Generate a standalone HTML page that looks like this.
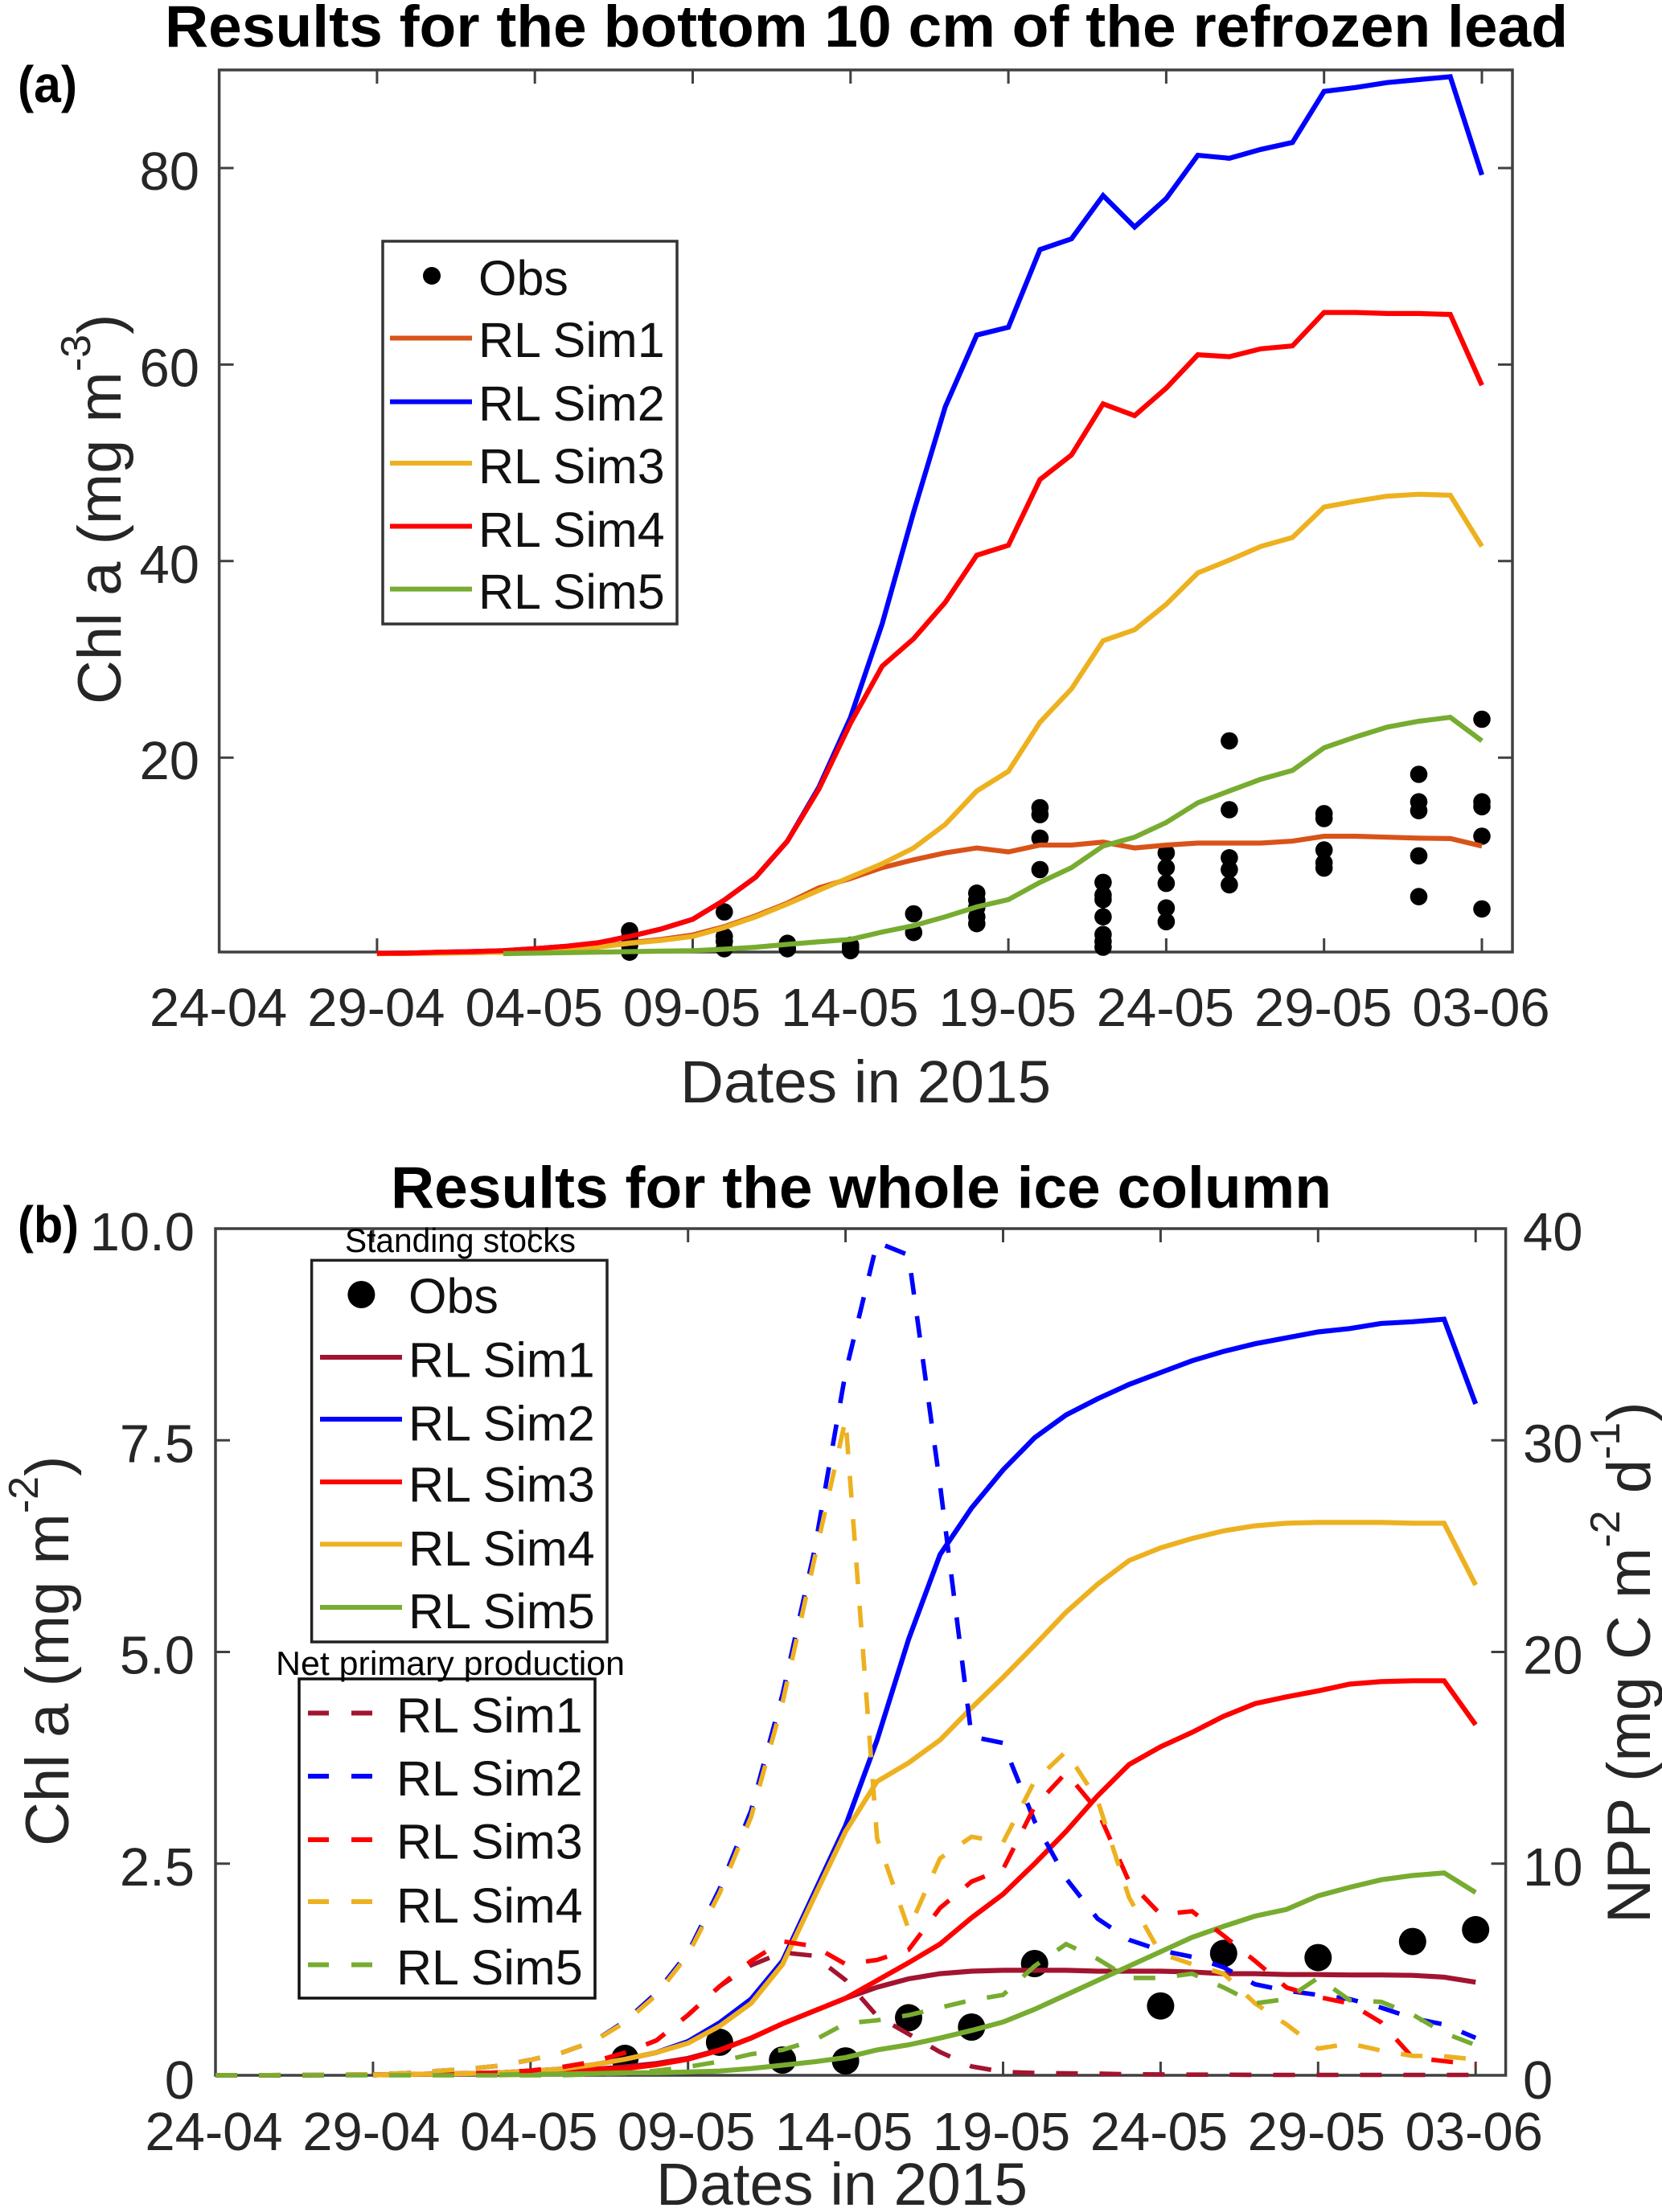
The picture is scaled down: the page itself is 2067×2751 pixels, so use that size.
<!DOCTYPE html>
<html lang="en">
<head>
<meta charset="utf-8">
<title>Chl a results for the refrozen lead</title>
<style>
html,body{margin:0;padding:0;background:#fff;}
svg{display:block;}
text{font-family:"Liberation Sans",Arial,sans-serif;fill:#262626;}
.title{font-weight:bold;font-size:73px;fill:#000;}
.lab{font-size:76px;}
.xlab{font-size:74px;}
.leg{font-size:61px;fill:#111;}
.tick{font-size:67px;}
.note{font-size:42px;fill:#000;}
.panel{font-weight:bold;font-size:64px;fill:#000;}
</style>
</head>
<body>
<svg id="figure" xmlns="http://www.w3.org/2000/svg" width="2067" height="2751" viewBox="0 0 2067 2751">
  <rect x="0" y="0" width="2067" height="2751" fill="#fff"/>
  <text class="title" x="205" y="58" textLength="1745" lengthAdjust="spacingAndGlyphs">Results for the bottom 10 cm of the refrozen lead</text>
  <text class="panel" x="22" y="127" textLength="74" lengthAdjust="spacingAndGlyphs">(a)</text>
  <text class="lab" transform="translate(150,876) rotate(-90)">Chl a (mg m<tspan dy="-38" font-size="52">-3</tspan><tspan dy="38">)</tspan></text>
  <text class="xlab" x="846" y="1371" textLength="461" lengthAdjust="spacingAndGlyphs">Dates in 2015</text>
  <g id="chartA"></g>

  <text class="title" x="486" y="1502" textLength="1170" lengthAdjust="spacingAndGlyphs">Results for the whole ice column</text>
  <text class="panel" x="22" y="1545" textLength="76" lengthAdjust="spacingAndGlyphs">(b)</text>
  <text class="lab" transform="translate(85,2296) rotate(-90)">Chl a (mg m<tspan dy="-38" font-size="52">-2</tspan><tspan dy="38">)</tspan></text>
  <text class="lab" transform="translate(2052,2392) rotate(-90)">NPP (mg C m<tspan dy="-38" font-size="52">-2</tspan><tspan dy="38"> d</tspan><tspan dy="-38" font-size="52">-1</tspan><tspan dy="38">)</tspan></text>
  <text class="xlab" x="816" y="2742" textLength="462" lengthAdjust="spacingAndGlyphs">Dates in 2015</text>
  <g id="chartB"></g>
</svg>
<script>
// ---------- shared tick labels ----------
const dateLabels = ['24-04','29-04','04-05','09-05','14-05','19-05','24-05','29-05','03-06'];
const dateTickDays = [0,5,10,15,20,25,30,35,40];

// ---------- panel (a) data: bottom 10 cm, Chl a mg m-3 ----------
const aTicks = [20,40,60,80];
const aStartDay = 5;
const aGreenStartDay = 9;
const aSim1 = [.05,.07,.1,.15,.2,.3,.5,.75,1.15,1.5,1.95,2.8,3.9,5.2,6.75,7.7,8.8,9.6,10.3,10.8,10.4,11.1,11.1,11.4,10.8,11.1,11.3,11.3,11.3,11.5,12,12,11.9,11.8,11.76,11];
const aSim2 = [.07,.1,.2,.25,.35,.55,.8,1.15,1.8,2.55,3.54,5.5,7.85,11.5,17,24.1,33.6,45,55.7,63,63.8,71.7,72.8,77.2,74,76.9,81.3,81,81.9,82.6,87.8,88.2,88.7,89,89.3,79.3];
const aSim3 = [.05,.07,.1,.15,.2,.3,.45,.7,1.1,1.4,1.8,2.7,3.8,5.1,6.5,7.85,9.2,10.8,13.2,16.6,18.6,23.6,27,31.9,33,35.6,38.8,40.1,41.5,42.4,45.5,46.1,46.6,46.8,46.7,41.5];
const aSim4 = [.07,.1,.2,.25,.35,.55,.8,1.15,1.8,2.55,3.54,5.5,7.85,11.5,16.8,23.5,29.3,32.1,35.8,40.6,41.6,48.3,50.8,56,54.8,57.6,61,60.8,61.6,61.9,65.3,65.3,65.2,65.2,65.1,57.9];
const aSim5 = [.05,.1,.15,.2,.25,.3,.35,.5,.7,1,1.25,1.5,2.25,2.9,3.8,4.8,5.55,7.3,8.8,11,11.9,13.4,15.4,16.6,17.8,18.7,21,22.1,23.1,23.7,24.1,21.7];
const aObsDays = [13,13,13,13,16,16,16,16,18,18,20,20,20,22,22,24,24,24,24,24,26,26,26,26,28,28,28,28,28,28,28,30,30,30,30,30,32,32,32,32,32,35,35,35,35,35,38,38,38,38,38,40,40,40,40,40];
const aObsValues = [2.37,1.64,.9,.2,4.3,1.8,1.3,.55,1.1,.55,.9,.7,.35,4.1,2.2,6.2,5.5,4.75,3.8,3.1,14.9,14.2,11.8,8.6,7.3,6,5.55,3.8,2,1.3,.7,10.3,8.8,7.2,4.7,3.3,21.7,14.7,9.8,8.6,7.05,14.3,13.8,10.6,9.3,8.76,18.3,15.5,14.6,10,5.85,23.9,15.5,15,12,4.6];

// ---------- panel (b) data: whole ice column ----------
const bLeftTicks = [0,2.5,5,7.5,10];
const bLeftTickLabels = ['0','2.5','5.0','7.5','10.0'];
const bRightTicks = [0,10,20,30,40];
const bStartDay = 5;
const bGreenStartDay = 9;
const bSim1 = [.005,.01,.015,.02,.03,.04,.05,.07,.1,.14,.2,.3,.44,.61,.76,.91,1.04,1.14,1.2,1.23,1.24,1.24,1.24,1.23,1.23,1.23,1.22,1.2,1.2,1.19,1.19,1.185,1.185,1.18,1.16,1.1];
const bSim2 = [.005,.01,.015,.02,.03,.05,.075,.125,.19,.27,.4,.62,.9,1.35,2.15,2.95,3.96,5.15,6.15,6.7,7.15,7.53,7.8,7.99,8.16,8.3,8.44,8.55,8.64,8.71,8.78,8.82,8.88,8.9,8.93,7.93];
const bSim3 = [.005,.01,.015,.02,.03,.04,.05,.07,.08,.125,.19,.295,.44,.61,.76,.91,1.12,1.33,1.55,1.86,2.14,2.5,2.88,3.3,3.67,3.88,4.05,4.24,4.39,4.47,4.54,4.62,4.65,4.66,4.66,4.14];
const bSim4 = [.005,.01,.015,.02,.03,.05,.075,.125,.19,.27,.38,.58,.85,1.31,2.1,2.88,3.47,3.69,3.96,4.34,4.7,5.08,5.47,5.8,6.08,6.23,6.34,6.43,6.49,6.52,6.53,6.53,6.53,6.52,6.52,5.79];
const bSim5 = [.005,.01,.015,.02,.03,.03,.04,.05,.08,.12,.16,.21,.3,.36,.44,.53,.63,.78,.95,1.12,1.29,1.46,1.63,1.76,1.88,1.96,2.12,2.22,2.31,2.36,2.39,2.16];
const bObsDays = [13,16,18,20,22,24,26,30,32,35,38,40];
const bObsValues = [.2,.39,.18,.17,.68,.57,1.32,.82,1.44,1.39,1.58,1.72];
const nppSim1 = [0,0,0,0,.01,.02,.04,.06,.08,.12,.22,.39,.64,1.07,1.65,2.85,4.2,5.2,5.8,5.65,4.5,2.8,1.95,1.1,.42,.16,.11,.09,.08,.05,.04,.03,.03,.02,.02,.02,.02,.02,.02,.02,.02];
const nppSim2 = [0,0,.01,.02,.03,.05,.1,.2,.3,.45,.73,1.07,1.6,2.55,3.9,5.8,8.8,12.5,18,24.7,33.2,39.35,38.75,27.9,16,15.7,12,9.3,7.4,6.4,5.9,5.6,5.1,4.3,4,3.8,3.6,3.2,2.7,2.4,1.77];
const nppSim3 = [0,0,0,0,.01,.02,.04,.06,.08,.12,.22,.39,.64,1.07,1.65,2.85,4.2,5.4,6.33,6.1,5.25,5.45,5.93,7.9,9.15,9.74,12.7,14.3,12.5,9.15,7.6,7.75,6.6,5.4,4.15,3.7,3.4,2.5,.84,.67,.5];
const nppSim4 = [0,0,.01,.02,.03,.05,.1,.2,.3,.45,.73,1.07,1.6,2.5,3.8,5.7,8.6,12.2,17.6,24.3,31,11.2,6.9,10.25,11.27,11,13.9,15.3,13,8.4,5.75,5.25,4.8,3.4,2.4,1.26,1.5,1.17,.92,.9,.75];
const nppSim5 = [0,0,0,0,0,0,0,0,0,0,0,0,.05,.1,.22,.4,.65,1,1.2,1.65,2.45,2.6,2.84,3.2,3.55,3.8,5.16,6.2,5.5,4.6,4.6,4.8,4.15,3.4,3.6,4.6,3.55,3.47,2.87,2,1.43];

// ---------- axis functions ----------
function xA(d){return 272.6+39.26*d;}
function yA(v){return 1186.6-12.22*v;}
function xB(d){return 268+39.18*d;}
function yB(v){return 2581-105.3*v;}
function yNpp(v){return 2581-26.325*v;}

const NS='http://www.w3.org/2000/svg';
function el(tag,attrs,parent){
  const e=document.createElementNS(NS,tag);
  for(const k in attrs){e.setAttribute(k,attrs[k]);}
  parent.appendChild(e);
  return e;
}
function pathFrom(values,startDay,xf,yf){
  return values.map(function(v,i){return (i?'L':'M')+xf(startDay+i).toFixed(1)+' '+yf(v).toFixed(1);}).join(' ');
}
function seriesLine(parent,name,values,startDay,xf,yf,color,width,dash){
  const p=el('path',{d:pathFrom(values,startDay,xf,yf),fill:'none',stroke:color,'stroke-width':width,'stroke-linejoin':'miter','stroke-dasharray':dash||'none'},parent);
  
  
}
function dots(parent,name,days,values,xf,yf,r){
  days.forEach(function(d,i){
    const c=el('circle',{cx:xf(d).toFixed(1),cy:yf(values[i]).toFixed(1),r:r,fill:'#000'},parent);
    
    
  });
}
const AXC='#404040';
function frame(parent,name,x0,x1,y0,y1){
  const r=el('rect',{x:x0,y:y0,width:x1-x0,height:y1-y0,fill:'none',stroke:AXC,'stroke-width':3.5},parent);
  
  
}
function tickMark(parent,name,x1,y1,x2,y2){
  const l=el('line',{x1:x1,y1:y1,x2:x2,y2:y2,stroke:AXC,'stroke-width':3},parent);
  
  
}
function label(parent,name,txt,x,y,anchor){
  const t=el('text',{x:x,y:y,'text-anchor':anchor,class:'tick'},parent);
  t.textContent=txt;
  
  
}
function legendBox(parent,name,x,y,w,h,color){
  const r=el('rect',{x:x,y:y,width:w,height:h,fill:'#fff',stroke:color,'stroke-width':3.5},parent);
  
  
}
function legendText(parent,name,txt,x,y){
  const t=el('text',{x:x,y:y,class:'leg'},parent);
  t.textContent=txt;
  
  
}
function legendSwatch(parent,name,x1,x2,y,color,dash){
  const l=el('line',{x1:x1,y1:y,x2:x2,y2:y,stroke:color,'stroke-width':6,'stroke-dasharray':dash||'none'},parent);
  
  
}
function legendDot(parent,name,cx,cy,r){
  const c=el('circle',{cx:cx,cy:cy,r:r,fill:'#000'},parent);
  
  
}

const ORANGE='#D95319',BLUE='#0000FF',YELLOW='#EDB120',RED='#FF0000',GREEN='#77AC30',MAROON='#A2142F';
const SOLID_W=6.2,DASH_W=5.6;

// ---------- panel (a) ----------
(function(){
  const g=document.getElementById('chartA');
  const x0=272.6,x1=1881,y0=87,y1=1184;
  frame(g,'top-plot-frame',x0,x1,y0,y1);
  dateTickDays.forEach(function(d,i){
    const x=xA(d);
    if(d>0){
      tickMark(g,'top-x-tick',x,y1,x,y1-17);
      tickMark(g,'top-x-tick-upper',x,y0,x,y0+17);
    }
    label(g,'top-x-tick-label',dateLabels[i],x-1,1276,'middle');
  });
  aTicks.forEach(function(v){
    const y=yA(v);
    tickMark(g,'top-y-tick',x0,y,x0+18,y);
    tickMark(g,'top-y-tick-right',x1,y,x1-18,y);
    label(g,'top-y-tick-label',String(v),248,y+27,'end');
  });
  dots(g,'top-obs-point',aObsDays,aObsValues,xA,yA,10.8);
  seriesLine(g,'top-rl-sim1-line',aSim1,aStartDay,xA,yA,ORANGE,SOLID_W);
  seriesLine(g,'top-rl-sim2-line',aSim2,aStartDay,xA,yA,BLUE,SOLID_W);
  seriesLine(g,'top-rl-sim3-line',aSim3,aStartDay,xA,yA,YELLOW,SOLID_W);
  seriesLine(g,'top-rl-sim4-line',aSim4,aStartDay,xA,yA,RED,SOLID_W);
  seriesLine(g,'top-rl-sim5-line',aSim5,aGreenStartDay,xA,yA,GREEN,SOLID_W);

  legendBox(g,'top-legend-box',476,300,366,476,'#333');
  legendDot(g,'top-legend-obs-marker',537,343,11);
  legendText(g,'top-legend-obs-label','Obs',595,367);
  const names=['RL Sim1','RL Sim2','RL Sim3','RL Sim4','RL Sim5'];
  const colors=[ORANGE,BLUE,YELLOW,RED,GREEN];
  const swY=[420.5,499.6,576,654.5,732.6];
  const txY=[444,523,601,680,757];
  names.forEach(function(n,i){
    legendSwatch(g,'top-legend-swatch',485,587,swY[i],colors[i]);
    legendText(g,'top-legend-label',n,595,txY[i]);
  });
})();

// ---------- panel (b) ----------
(function(){
  const g=document.getElementById('chartB');
  const x0=268,x1=1872.6,y0=1528,y1=2581;
  frame(g,'bottom-plot-frame',x0,x1,y0,y1);
  dateTickDays.forEach(function(d,i){
    const x=xB(d);
    if(d>0){
      tickMark(g,'bottom-x-tick',x,y1,x,y1-17);
      tickMark(g,'bottom-x-tick-upper',x,y0,x,y0+17);
    }
    label(g,'bottom-x-tick-label',dateLabels[i],x-2,2674,'middle');
  });
  bLeftTicks.forEach(function(v,i){
    const y=yB(v);
    if(v>0&&v<10){tickMark(g,'bottom-left-y-tick',x0,y,x0+18,y);}
    label(g,'bottom-left-y-tick-label',bLeftTickLabels[i],242,y+(v===0?29:27),'end');
  });
  bRightTicks.forEach(function(v){
    const y=yNpp(v);
    if(v>0&&v<40){tickMark(g,'bottom-right-y-tick',x1,y,x1-18,y);}
    label(g,'bottom-right-y-tick-label',String(v),1894,y+(v===0?29:27),'start');
  });
  dots(g,'bottom-obs-point',bObsDays,bObsValues,xB,yB,17);
  seriesLine(g,'chl-rl-sim1-line',bSim1,bStartDay,xB,yB,MAROON,SOLID_W);
  seriesLine(g,'chl-rl-sim2-line',bSim2,bStartDay,xB,yB,BLUE,SOLID_W);
  seriesLine(g,'chl-rl-sim3-line',bSim3,bStartDay,xB,yB,RED,SOLID_W);
  seriesLine(g,'chl-rl-sim4-line',bSim4,bStartDay,xB,yB,YELLOW,SOLID_W);
  seriesLine(g,'chl-rl-sim5-line',bSim5,bGreenStartDay,xB,yB,GREEN,SOLID_W);
  const DASH='27 27';
  seriesLine(g,'npp-rl-sim1-line',nppSim1,0,xB,yNpp,MAROON,DASH_W,DASH);
  seriesLine(g,'npp-rl-sim2-line',nppSim2,0,xB,yNpp,BLUE,DASH_W,DASH);
  seriesLine(g,'npp-rl-sim3-line',nppSim3,0,xB,yNpp,RED,DASH_W,DASH);
  seriesLine(g,'npp-rl-sim4-line',nppSim4,0,xB,yNpp,YELLOW,DASH_W,DASH);
  seriesLine(g,'npp-rl-sim5-line',nppSim5,0,xB,yNpp,GREEN,DASH_W,DASH);

  const names=['RL Sim1','RL Sim2','RL Sim3','RL Sim4','RL Sim5'];
  const colors=[MAROON,BLUE,RED,YELLOW,GREEN];

  legendBox(g,'standing-stocks-legend-box',387.6,1567.4,367.4,474.6,'#222');
  legendDot(g,'standing-stocks-obs-marker',449.4,1610,17);
  legendText(g,'standing-stocks-obs-label','Obs',508,1633);
  const sY=[1688,1765,1843,1920.5,1999];
  const tY=[1712.5,1791.5,1867.4,1947,2025];
  names.forEach(function(n,i){
    legendSwatch(g,'standing-stocks-swatch',398,500,sY[i],colors[i]);
    legendText(g,'standing-stocks-label',n,508,tY[i]);
  });

  legendBox(g,'npp-legend-box',372,2088,368,397,'#111');
  const dY=[2130.5,2209,2288,2365,2443.5];
  const dT=[2154.6,2233,2311.6,2391,2468];
  names.forEach(function(n,i){
    legendSwatch(g,'npp-swatch',383,463,dY[i],colors[i],'26 28');
    legendText(g,'npp-label',n,493,dT[i]);
  });

  const st=el('text',{x:429,y:1557,class:'note',textLength:287,lengthAdjust:'spacingAndGlyphs'},g);
  st.textContent='Standing stocks';
  
  
  const np=el('text',{x:343,y:2083,class:'note',textLength:434,lengthAdjust:'spacingAndGlyphs'},g);
  np.textContent='Net primary production';
  
  
})();
</script>
</body>
</html>
